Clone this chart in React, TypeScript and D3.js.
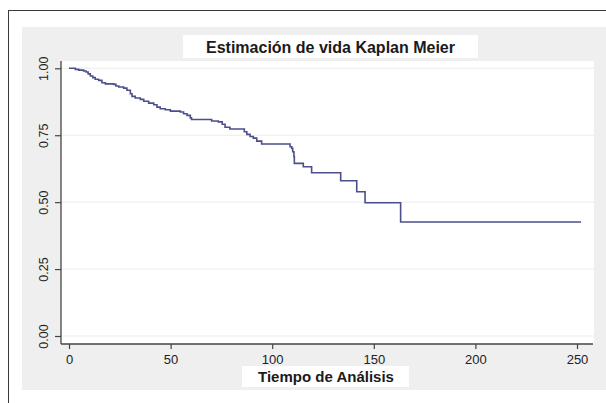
import React, { useRef, useEffect } from "react";
import * as d3 from "d3";

// Kaplan-Meier estimate: time of each step and survival after it
const times = [
  0, 3.1, 4.8, 7.2, 8.4, 9.4, 10.5, 11.7, 12.9, 14.6, 16.2, 17.9, 22.0, 23.1, 24.5, 26.9,
  28.5, 30.2, 31.0, 32.6, 35.1, 36.8, 39.2, 41.7, 43.3, 44.9, 47.4, 49.9, 54.8, 56.4,
  58.1, 59.7, 60.3, 70.2, 73.5, 75.4, 76.8, 79.2, 86.3, 87.5, 89.1, 90.7, 92.4, 94.8,
  108.8, 109.6, 110.1, 110.7, 110.9, 115.3, 119.4, 133.7, 141.6, 145.7, 163.2, 252,
];
const survival = [
  1.0, 0.996, 0.993, 0.99, 0.986, 0.979, 0.971, 0.965, 0.959, 0.955, 0.946, 0.942, 0.94,
  0.934, 0.93, 0.926, 0.918, 0.905, 0.895, 0.889, 0.884, 0.877, 0.87, 0.864, 0.855, 0.849,
  0.845, 0.84, 0.837, 0.83, 0.824, 0.815, 0.809, 0.803, 0.8, 0.791, 0.78, 0.773, 0.763,
  0.753, 0.745, 0.739, 0.728, 0.717, 0.707, 0.701, 0.688, 0.67, 0.645, 0.632, 0.61, 0.58,
  0.539, 0.498, 0.426, 0.426,
];

const xTicks = [0, 50, 100, 150, 200, 250];
const yTicks = [0, 0.25, 0.5, 0.75, 1];

const title = "Estimación de vida Kaplan Meier";
const xTitle = "Tiempo de Análisis";

const FONT = "'Liberation Sans', Arial, Helvetica, sans-serif";

export default function App() {
  const svgRef = useRef(null);

  useEffect(() => {
    const width = 606;
    const height = 403;
    // plot region (white)
    const plot = { left: 61, right: 594, top: 61, bottom: 344 };

    const svg = d3.select(svgRef.current);
    svg.selectAll("*").remove();
    svg.attr("width", width).attr("height", height);

    // page background + frame
    svg.append("rect").attr("width", width).attr("height", height).attr("fill", "#ffffff");
    svg
      .append("rect")
      .attr("x", 8.5)
      .attr("y", 10.5)
      .attr("width", 700)
      .attr("height", 500)
      .attr("fill", "none")
      .attr("stroke", "#3a3a3a")
      .attr("stroke-width", 1);

    // graph region (light gray)
    svg
      .append("rect")
      .attr("x", 22)
      .attr("y", 27)
      .attr("width", width - 22)
      .attr("height", 390 - 27)
      .attr("fill", "#efefef");

    svg
      .append("rect")
      .attr("x", plot.left)
      .attr("y", plot.top)
      .attr("width", plot.right - plot.left)
      .attr("height", plot.bottom - plot.top)
      .attr("fill", "#ffffff");

    const x = d3.scaleLinear().domain([0, 250]).range([69, 577]);
    const y = d3.scaleLinear().domain([0, 1]).range([336, 68.3]);

    // horizontal grid lines
    svg
      .append("g")
      .selectAll("line")
      .data(yTicks)
      .join("line")
      .attr("x1", plot.left)
      .attr("x2", plot.right)
      .attr("y1", (d) => y(d))
      .attr("y2", (d) => y(d))
      .attr("stroke", "#ececec")
      .attr("stroke-width", 1);

    // survival curve
    const line = d3
      .line<number>()
      .x((d, i) => x(times[i]))
      .y((d) => y(d))
      .curve(d3.curveStepAfter);

    svg
      .append("path")
      .attr("d", line(survival))
      .attr("fill", "none")
      .attr("stroke", "#4b4f8a")
      .attr("stroke-width", 1.6);

    // axes lines
    svg
      .append("line")
      .attr("x1", plot.left)
      .attr("x2", plot.left)
      .attr("y1", plot.top)
      .attr("y2", plot.bottom)
      .attr("stroke", "#444")
      .attr("stroke-width", 1.3);
    svg
      .append("line")
      .attr("x1", plot.left)
      .attr("x2", plot.right - 1)
      .attr("y1", plot.bottom)
      .attr("y2", plot.bottom)
      .attr("stroke", "#444")
      .attr("stroke-width", 1.3);

    // y axis ticks + rotated labels
    const yAxis = svg
      .append("g")
      .attr("transform", `translate(${plot.left},0)`)
      .call(d3.axisLeft(y).tickValues(yTicks).tickSize(6).tickFormat(d3.format(".2f")));
    yAxis.select(".domain").remove();
    yAxis.selectAll(".tick line").attr("stroke", "#444").attr("stroke-width", 1.2);
    yAxis
      .selectAll(".tick text")
      .attr("transform", "rotate(-90)")
      .attr("x", 0)
      .attr("y", -13.5)
      .attr("dy", null)
      .attr("text-anchor", "middle")
      .attr("fill", "#222")
      .style("font-family", FONT)
      .style("font-size", "12.5px");

    // x axis ticks + labels
    const xAxis = svg
      .append("g")
      .attr("transform", `translate(0,${plot.bottom})`)
      .call(d3.axisBottom(x).tickValues(xTicks).tickSize(5));
    xAxis.select(".domain").remove();
    xAxis.selectAll(".tick line").attr("stroke", "#444").attr("stroke-width", 1.2);
    xAxis
      .selectAll(".tick text")
      .attr("y", 20)
      .attr("dy", null)
      .attr("fill", "#222")
      .style("font-family", FONT)
      .style("font-size", "13px");

    // title box
    svg
      .append("rect")
      .attr("x", 183)
      .attr("y", 35)
      .attr("width", 478 - 183)
      .attr("height", 23)
      .attr("fill", "#ffffff");
    svg
      .append("text")
      .attr("x", 330.5)
      .attr("y", 53.3)
      .attr("text-anchor", "middle")
      .attr("fill", "#1a1a1a")
      .style("font-family", FONT)
      .style("font-weight", "bold")
      .style("font-size", "16px")
      .text(title);

    // x axis title box
    svg
      .append("rect")
      .attr("x", 242)
      .attr("y", 366)
      .attr("width", 409 - 242)
      .attr("height", 21)
      .attr("fill", "#ffffff");
    svg
      .append("text")
      .attr("x", 326)
      .attr("y", 381.7)
      .attr("text-anchor", "middle")
      .attr("fill", "#1a1a1a")
      .style("font-family", FONT)
      .style("font-weight", "bold")
      .style("font-size", "15px")
      .text(xTitle);
  }, []);

  return <svg ref={svgRef} style={{ position: "absolute", left: 0, top: 0, display: "block" }}></svg>;
}
